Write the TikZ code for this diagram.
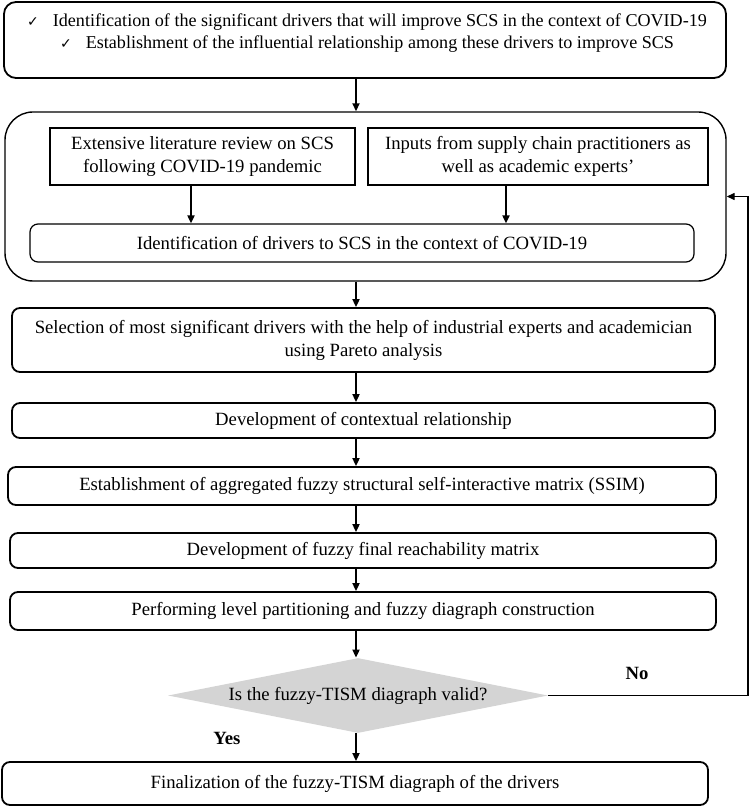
\documentclass[tikz,border=0pt]{standalone}
\usepackage{fontspec}
\setmainfont{Liberation Serif}
\newfontfamily\checkfont{DejaVu Sans}
\usetikzlibrary{arrows.meta,shapes.geometric}

\newcommand{\tick}{{\checkfont\fontsize{7}{7}\selectfont ✓}\hspace{7pt}}

\begin{document}
\begin{tikzpicture}[x=0.5pt,y=-0.5pt,
        every node/.style={font=\fontsize{9.35}{11.5}\selectfont},
        rbox/.style={draw,rounded corners=4pt,line width=0.9pt,inner sep=0pt},
        pbox/.style={draw,line width=0.6pt,inner sep=0pt,align=center},
        arr/.style={-{Triangle[length=4pt,width=3.5pt]},line width=0.9pt},
        ans/.style={font=\fontsize{9.35}{11.5}\selectfont\bfseries}]
        \useasboundingbox (0,0) rectangle (751,807);

        \coordinate (axis) at (356,0);
        \coordinate (c1) at (191,0);
        \coordinate (c2) at (506,0);
        \coordinate (back) at (748,0);

        % objectives
        \node[rbox,rounded corners=6pt,minimum width=361pt,minimum height=38pt] (goal) at (365,40) {};
        \node[align=center,font=\fontsize{9.05}{11.2}\selectfont] (goaltext) at (367,33)
            {\tick Identification of the significant drivers that will improve SCS in the context of COVID-19\\
             \tick Establishment of the influential relationship among these drivers to improve SCS};

        % identification stage
        \node[draw,rounded corners=14pt,line width=0.7pt,minimum width=360.5pt,minimum height=84.5pt] (frame) at (365.5,196.5) {};
        \node[pbox,minimum width=152.5pt,minimum height=28.5pt] (lit) at (202.5,156.5)
            {Extensive literature review on SCS\\following COVID-19 pandemic};
        \node[pbox,minimum width=170pt,minimum height=28.5pt] (inp) at (538,156.5)
            {Inputs from supply chain practitioners as\\well as academic experts'};
        \node[rbox,line width=0.6pt,minimum width=332pt,minimum height=19pt] (ident) at (362,243)
            {Identification of drivers to SCS in the context of COVID-19};

        % main steps
        \node[rbox,align=center,minimum width=351.5pt,minimum height=32pt] (sel) at (363.5,340)
            {Selection of most significant drivers with the help of industrial experts and academician\\using Pareto analysis};
        \node[rbox,minimum width=351.5pt,minimum height=17.5pt] (dev) at (363.5,420.5)
            {Development of contextual relationship};
        \node[rbox,minimum width=354pt,minimum height=19pt] (est) at (362,486)
            {Establishment of aggregated fuzzy structural self-interactive matrix (SSIM)};
        \node[rbox,minimum width=353pt,minimum height=17.5pt] (reach) at (363,550.5)
            {Development of fuzzy final reachability matrix};
        \node[rbox,minimum width=353pt,minimum height=19pt] (part) at (363,611)
            {Performing level partitioning and fuzzy diagraph construction};
        \node[diamond,fill=black!17,inner sep=0pt,aspect=5,minimum width=190pt,minimum height=37.5pt] (valid) at (358,695.5)
            {Is the fuzzy-TISM diagraph valid?};
        \node[rbox,minimum width=353pt,minimum height=21.5pt] (fin) at (355,783.5)
            {Finalization of the fuzzy-TISM diagraph of the drivers};

        \node[ans] (yes) at (227,738) {Yes};
        \node[ans] (no) at (637,673) {No};

        % connectors
        \draw[arr] (goal.south -| axis) -- (frame.north -| axis);
        \draw[arr] (lit.south -| c1) -- (ident.north -| c1);
        \draw[arr] (inp.south -| c2) -- (ident.north -| c2);
        \draw[arr] (frame.south -| axis) -- (sel.north -| axis);
        \draw[arr] (sel.south -| axis) -- (dev.north -| axis);
        \draw[arr] (dev.south -| axis) -- (est.north -| axis);
        \draw[arr] (est.south -| axis) -- (reach.north -| axis);
        \draw[arr] (reach.south -| axis) -- (part.north -| axis);
        \draw[arr] (part.south -| axis) -- (valid.north -| axis);
        \draw[arr] (valid.south -| axis) -- (fin.north -| axis);
        \draw[arr,line width=0.7pt] (valid.east) -| (back |- valid.east) |- (frame.east);
    \end{tikzpicture}
\end{document}
